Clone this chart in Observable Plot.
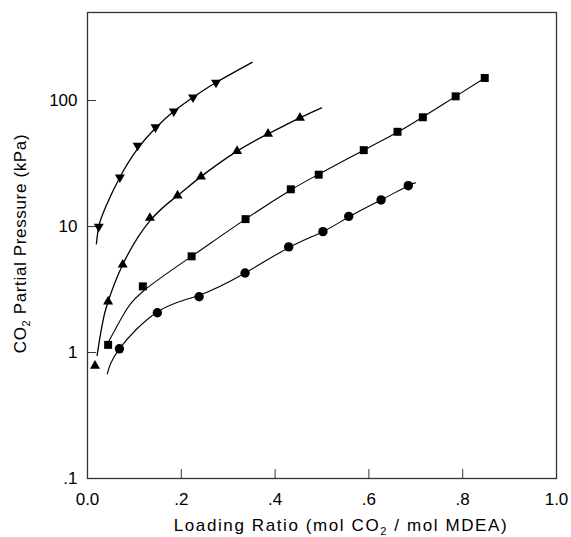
<!DOCTYPE html>
<html>
<head>
<meta charset="utf-8">
<script src="https://cdn.jsdelivr.net/npm/d3@7"></script>
<script src="https://cdn.jsdelivr.net/npm/@observablehq/plot@0.6"></script>
<style>
  html, body { margin: 0; padding: 0; background: #fff; }
</style>
</head>
<body>
<div id="chart"></div>
<script>
// ---- Axis ticks ----
const xTickValues = [0, 0.2, 0.4, 0.6, 0.8, 1.0];
const xTickLabels = ["0.0", ".2", ".4", ".6", ".8", "1.0"];
const xInnerTicks = [0.2, 0.4, 0.6, 0.8];
const yTickValues = [0.1, 1, 10, 100];
const yTickLabels = [".1", "1", "10", "100"];
const yInnerTicks = [1, 10, 100];

const xLabel = "Loading Ratio (mol CO2 / mol MDEA)";
const yLabel = "CO2 Partial Pressure (kPa)";

// ---- Series A (inverted triangles) ----
const aLoading  = [0.024, 0.069, 0.107, 0.145, 0.184, 0.225, 0.274];
const aPressure = [10.0, 24.6, 43.9, 61.4, 82.2, 106, 139];
const aCurveLoading  = [0.019, 0.024, 0.038, 0.069, 0.107, 0.145, 0.184, 0.225, 0.274, 0.351];
const aCurvePressure = [7.3, 10.0, 14.1, 24.6, 41.5, 60.5, 82.2, 106, 139, 201];

// ---- Series B (triangles) ----
const bLoading  = [0.016, 0.044, 0.075, 0.133, 0.192, 0.242, 0.319, 0.385, 0.453];
const bPressure = [0.785, 2.54, 4.98, 11.7, 17.6, 24.9, 39.7, 54.4, 72.9];
const bCurveLoading  = [0.0205, 0.0277, 0.0348, 0.044, 0.075, 0.133, 0.192, 0.242, 0.319, 0.385, 0.453, 0.499];
const bCurvePressure = [0.95, 1.40, 1.92, 2.54, 4.98, 11.1, 17.6, 24.9, 39.7, 54.4, 72.9, 87.5];

// ---- Series C (squares) ----
const cLoading  = [0.044, 0.118, 0.222, 0.337, 0.4335, 0.493, 0.589, 0.661, 0.715, 0.785, 0.847];
const cPressure = [1.15, 3.35, 5.8, 11.45, 19.75, 25.8, 40.4, 56.5, 73.7, 108, 151];
const cCurveLoading  = [0.045, 0.075, 0.118, 0.222, 0.337, 0.4335, 0.493, 0.589, 0.661, 0.715, 0.785, 0.847];
const cCurvePressure = [1.22, 1.95, 3.05, 5.8, 11.45, 19.5, 26.0, 40.4, 56.0, 74.0, 108, 151];

// ---- Series D (circles) ----
const dLoading  = [0.068, 0.149, 0.238, 0.336, 0.429, 0.502, 0.557, 0.626, 0.684];
const dPressure = [1.07, 2.07, 2.77, 4.28, 6.89, 9.11, 12.05, 16.26, 21.1];
const dCurveLoading  = [0.042, 0.068, 0.149, 0.238, 0.336, 0.429, 0.502, 0.557, 0.626, 0.684, 0.699];
const dCurvePressure = [0.675, 1.07, 2.1, 2.85, 4.28, 6.8, 9.11, 11.9, 16.26, 21.1, 22.2];

const rows = (xs, ys) => xs.map((x, i) => ({x, y: ys[i]}));
const aPts = rows(aLoading, aPressure), aLine = rows(aCurveLoading, aCurvePressure);
const bPts = rows(bLoading, bPressure), bLine = rows(bCurveLoading, bCurvePressure);
const cPts = rows(cLoading, cPressure), cLine = rows(cCurveLoading, cCurvePressure);
const dPts = rows(dLoading, dPressure), dLine = rows(dCurveLoading, dCurvePressure);

const font = "'Liberation Sans', Arial, Helvetica, sans-serif";
const lineOpts = {x: "x", y: "y", curve: "natural", stroke: "black", strokeWidth: 1.3};

const chart = Plot.plot({
  width: 571,
  height: 537,
  marginLeft: 87,
  marginRight: 15,
  marginTop: 12,
  marginBottom: 59,
  style: {fontFamily: font, fontSize: "17px", background: "white", color: "black"},
  x: {domain: [0, 1]},
  y: {type: "log", domain: [0.1, 500]},
  marks: [
    Plot.axisX(xInnerTicks, {tickSize: -9, fill: "none", label: null, stroke: "#333"}),
    Plot.axisY(yInnerTicks, {tickSize: -9, fill: "none", label: null, stroke: "#333"}),
    Plot.axisX(xTickValues, {tickSize: 0, tickPadding: 14, label: null, fontSize: 17,
      tickFormat: d => xTickLabels[xTickValues.indexOf(d)]}),
    Plot.axisY(yTickValues, {tickSize: 0, tickPadding: 10, label: null, fontSize: 17,
      tickFormat: d => yTickLabels[yTickValues.indexOf(d)]}),
    Plot.frame({stroke: "#333", strokeWidth: 1.3}),
    Plot.line(aLine, lineOpts),
    Plot.line(bLine, lineOpts),
    Plot.line(cLine, {...lineOpts, strokeWidth: 1.1}),
    Plot.line(dLine, {...lineOpts, strokeWidth: 1.1}),
    Plot.dot(aPts, {x: "x", y: "y", symbol: "triangle", r: 3.7, fill: "black", rotate: 180}),
    Plot.dot(bPts, {x: "x", y: "y", symbol: "triangle", r: 3.7, fill: "black"}),
    Plot.dot(cPts, {x: "x", y: "y", symbol: "square", r: 4.5, fill: "black"}),
    Plot.dot(dPts, {x: "x", y: "y", symbol: "circle", r: 4.7, fill: "black"}),
    Plot.text([yLabel], {text: d => d, frameAnchor: "left", textAnchor: "middle", lineAnchor: "middle",
      dx: -67, dy: -2, rotate: -90, fontSize: 17, fill: "black"}),
    Plot.text([xLabel], {text: d => d, frameAnchor: "bottom", textAnchor: "middle", lineAnchor: "middle",
      dx: 19, dy: 47, fontSize: 17, fill: "black"})
  ]
});

// letter spacing for the axis titles, and subscript the "2" in CO2
const NS = "http://www.w3.org/2000/svg";
chart.querySelectorAll("text").forEach(t => {
  const s = t.textContent;
  const i = s.indexOf("CO2");
  if (i < 0) return;
  t.setAttribute("letter-spacing", s === xLabel ? "1.6" : "0.65");
  while (t.firstChild) t.removeChild(t.firstChild);
  const a = document.createElementNS(NS, "tspan");
  a.textContent = s.slice(0, i + 2);
  const b = document.createElementNS(NS, "tspan");
  b.textContent = "2";
  b.setAttribute("dy", "4");
  b.setAttribute("font-size", "11");
  const c = document.createElementNS(NS, "tspan");
  c.textContent = s.slice(i + 3);
  c.setAttribute("dy", "-4");
  t.append(a, b, c);
});

document.getElementById("chart").append(chart);
</script>
</body>
</html>
